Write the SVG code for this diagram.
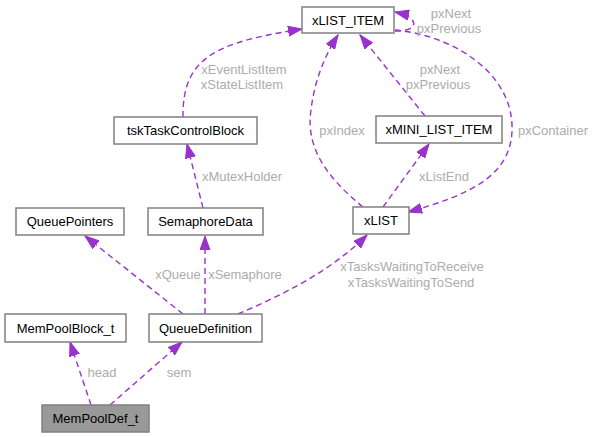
<svg xmlns="http://www.w3.org/2000/svg" width="593" height="437" viewBox="0 0 593 437">
<style>
.node rect{fill:#ffffff;stroke:#808080;stroke-width:1.5}
.node text{font-family:"Liberation Sans",Arial,sans-serif;font-size:13px;fill:#000000;text-anchor:middle}
.edge{fill:none;stroke:#9a32cd;stroke-width:1.4;stroke-dasharray:6,4;marker-end:url(#arrow)}
.lbl{font-family:"Liberation Sans",Arial,sans-serif;font-size:13px;fill:#acacac;text-anchor:middle}
</style>
<defs>
<marker id="arrow" markerUnits="userSpaceOnUse" markerWidth="15" markerHeight="11" refX="14" refY="5.5" orient="auto" viewBox="0 0 15 11">
<path d="M0,0.5 L14,5.5 L0,10.5 z" fill="#9a32cd" stroke="#9a32cd" stroke-width="1"/>
</marker>
</defs>
<rect width="593" height="437" fill="#ffffff"/>
<g id="connectors">
<path class="edge" d="M91,405 L70,342"/>
<path class="edge" d="M110,405 L182,342"/>
<path class="edge" d="M183,314 L85,236"/>
<path class="edge" d="M205,314 L205,236"/>
<path class="edge" d="M238,314 C280,296 330,272 367,235"/>
<path class="edge" d="M203,208 L187,144"/>
<path class="edge" d="M183,117 C182,55 220,42 302,29"/>
<path class="edge" d="M363,207 C330,180 305,150 311,110 C314,85 322,60 338,35"/>
<path class="edge" d="M425,116 L360,35"/>
<path class="edge" d="M383,207 L429,144"/>
<path class="edge" d="M395,30 C450,35 510,70 512,125 C514,175 470,195 408,212"/>
<path class="edge" d="M395,31 C418,32 422,18 395,12"/>
<text class="lbl" x="102" y="377">head</text>
<text class="lbl" x="179" y="377">sem</text>
<text class="lbl" x="178" y="279">xQueue</text>
<text class="lbl" x="245" y="279">xSemaphore</text>
<text class="lbl" x="412" y="271">xTasksWaitingToReceive</text>
<text class="lbl" x="411" y="287">xTasksWaitingToSend</text>
<text class="lbl" x="242" y="181">xMutexHolder</text>
<text class="lbl" x="244" y="74">xEventListItem</text>
<text class="lbl" x="242" y="89">xStateListItem</text>
<text class="lbl" x="342" y="135">pxIndex</text>
<text class="lbl" x="440" y="74">pxNext</text>
<text class="lbl" x="438" y="89">pxPrevious</text>
<text class="lbl" x="444" y="181">xListEnd</text>
<text class="lbl" x="553" y="135">pxContainer</text>
<text class="lbl" x="451" y="18">pxNext</text>
<text class="lbl" x="449" y="33">pxPrevious</text>
</g>
<g id="xLIST_ITEM" class="node"><rect x="302" y="7" width="92" height="26"/><text x="348" y="24.5">xLIST_ITEM</text></g>
<g id="tskTaskControlBlock" class="node"><rect x="114" y="117" width="143" height="27"/><text x="185.5" y="135">tskTaskControlBlock</text></g>
<g id="xMINI_LIST_ITEM" class="node"><rect x="376" y="116" width="126" height="27"/><text x="439" y="134">xMINI_LIST_ITEM</text></g>
<g id="xLIST" class="node"><rect x="353" y="207" width="56" height="27"/><text x="381" y="225">xLIST</text></g>
<g id="QueuePointers" class="node"><rect x="16" y="208" width="108" height="27"/><text x="70" y="226">QueuePointers</text></g>
<g id="SemaphoreData" class="node"><rect x="148" y="208" width="115" height="27"/><text x="205.5" y="226">SemaphoreData</text></g>
<g id="MemPoolBlock_t" class="node"><rect x="5" y="314" width="121" height="28"/><text x="65.5" y="332.5">MemPoolBlock_t</text></g>
<g id="QueueDefinition" class="node"><rect x="149" y="314" width="113" height="28"/><text x="205.5" y="332.5">QueueDefinition</text></g>
<g id="MemPoolDef_t" class="node"><rect x="42" y="405" width="107" height="27" style="fill:#999999"/><text x="95.5" y="423">MemPoolDef_t</text></g>
</svg>
